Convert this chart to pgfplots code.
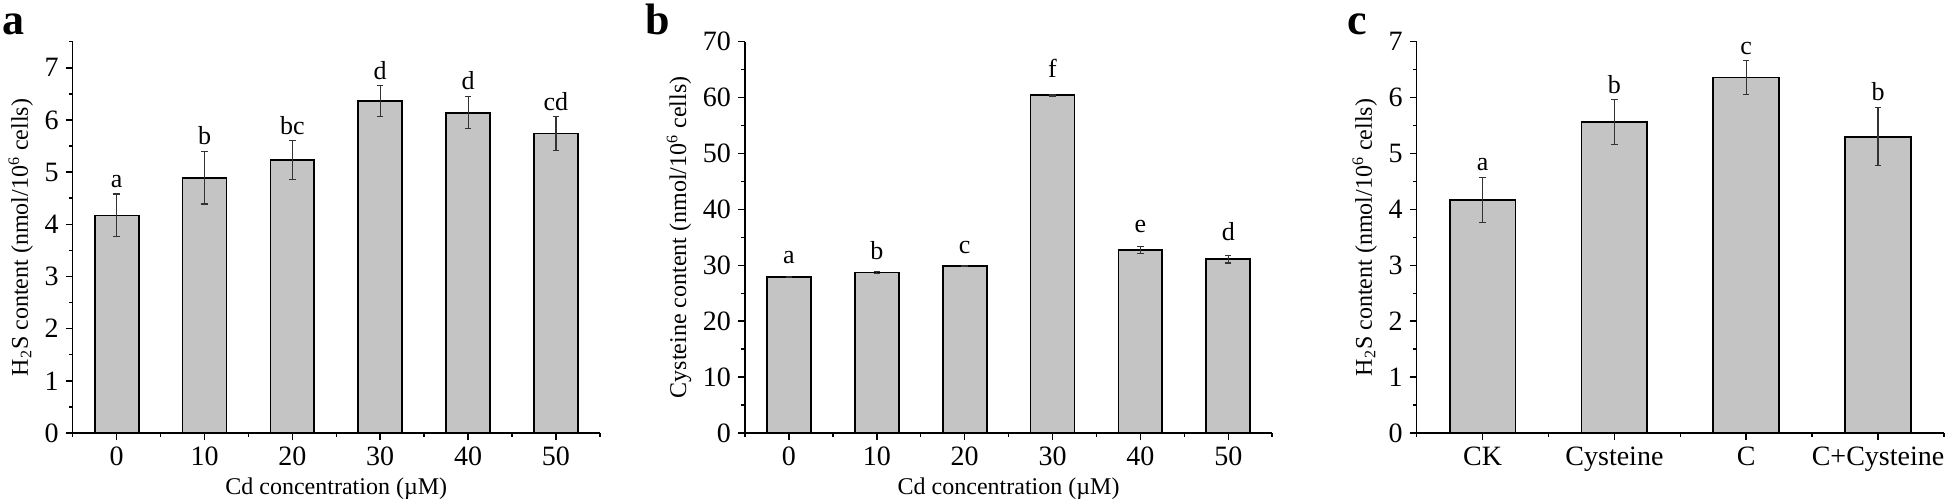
\documentclass[border=0pt]{standalone}
\usepackage{fontspec}
\setmainfont{Liberation Serif}
\usepackage{pgfplots}
\usepackage{pgfplotstable}
\pgfplotsset{compat=1.18}

\definecolor{barfill}{RGB}{196,196,196}
\definecolor{errcol}{RGB}{50,50,50}

% x, bar value, error, baseline of the letter, letter
\pgfplotstableread{
x y err ly lab
0 4.17 0.41 4.71 a
1 4.89 0.50 5.53 b
2 5.23 0.37 5.73 bc
3 6.36 0.30 6.78 d
4 6.14 0.31 6.58 d
5 5.74 0.33 6.19 cd
}\dataA

\pgfplotstableread{
x y err ly lab
0 27.95 0.05 30.3 a
1 28.70 0.15 31.1 b
2 29.83 0.10 32.1 c
3 60.45 0.15 63.6 f
4 32.70 0.60 35.8 e
5 31.10 0.70 34.4 d
}\dataB

\pgfplotstableread{
x y err ly lab
0 4.17 0.40 4.69 a
1 5.56 0.40 6.08 b
2 6.36 0.30 6.78 c
3 5.30 0.52 5.94 b
}\dataC

\pgfplotsset{
  panel/.style={
    scale only axis, width=263.6pt, height=195.65pt,
    anchor=south west, clip=false,
    axis x line=bottom, axis y line=left,
    axis line style={line width=0.75pt, -},
    tick style={line width=0.75pt, black},
    tick align=outside,
    major tick length=3.5pt, minor tick length=1.8pt,
    xmin=-0.5, ymin=0,
    xtick=data,
    font=\fontsize{12}{14}\selectfont,
    tick label style={font=\fontsize{14}{16}\selectfont},
    /pgf/number format/assume math mode=true,
  },
  bars/.style={
    ybar, bar width=0.5, bar shift=0pt,
    fill=barfill, draw=black, line width=0.9pt,
    error bars/.cd, y dir=both, y explicit,
    error bar style={line width=0.6pt, errcol},
    error mark options={rotate=90, mark size=1.6pt, line width=0.6pt, errcol},
  },
  letters/.style={
    draw=none, mark=none, nodes near coords,
    point meta=explicit symbolic,
    every node near coord/.append style={anchor=base, inner sep=0pt,
      font=\fontsize{13}{15}\selectfont},
  },
}

\begin{document}
\begin{tikzpicture}
\path[use as bounding box] (0,0) rectangle (973pt,-249pt);

% panel a
\begin{axis}[panel, at={(36.35pt,-216.5pt)},
    xmax=5.5, ymax=7.5,
    minor xtick={-0.5,0.5,...,5.5},
    ytick={0,1,...,7}, minor ytick={0.5,1.5,...,7.5},
    xticklabels={0,10,20,30,40,50},
    xlabel={Cd concentration (µM)},
    ylabel={H\textsubscript{2}S content (nmol/10\textsuperscript{6} cells)},
    xlabel style={yshift=1pt}, ylabel style={yshift=-1pt}]
  \addplot[bars] table[x=x, y=y, y error=err] {\dataA};
  \addplot[letters] table[x=x, y=ly, meta=lab] {\dataA};
\end{axis}

% panel b
\begin{axis}[panel, at={(372.5pt,-216.5pt)},
    xmax=5.5, ymax=70,
    minor xtick={-0.5,0.5,...,5.5},
    ytick={0,10,...,70}, minor ytick={5,15,...,65},
    xticklabels={0,10,20,30,40,50},
    xlabel={Cd concentration (µM)},
    ylabel={Cysteine content (nmol/10\textsuperscript{6} cells)},
    xlabel style={yshift=1pt}, ylabel style={yshift=-1pt}]
  \addplot[bars] table[x=x, y=y, y error=err] {\dataB};
  \addplot[letters] table[x=x, y=ly, meta=lab] {\dataB};
\end{axis}

% panel c
\begin{axis}[panel, at={(708.35pt,-216.5pt)},
    xmax=3.5, ymax=7,
    minor xtick={-0.5,0.5,...,3.5},
    ytick={0,1,...,7}, minor ytick={0.5,1.5,...,6.5},
    xticklabels={CK,Cysteine,C,C+Cysteine},
    ylabel={H\textsubscript{2}S content (nmol/10\textsuperscript{6} cells)},
    ylabel style={yshift=-1pt}]
  \addplot[bars] table[x=x, y=y, y error=err] {\dataC};
  \addplot[letters] table[x=x, y=ly, meta=lab] {\dataC};
\end{axis}

\node[anchor=base west, inner sep=0pt, font=\bfseries\fontsize{22}{22}\selectfont] at (1pt,-17pt) {a};
\node[anchor=base west, inner sep=0pt, font=\bfseries\fontsize{22}{22}\selectfont] at (322.5pt,-17pt) {b};
\node[anchor=base west, inner sep=0pt, font=\bfseries\fontsize{22}{22}\selectfont] at (673.5pt,-17pt) {c};
\end{tikzpicture}
\end{document}
